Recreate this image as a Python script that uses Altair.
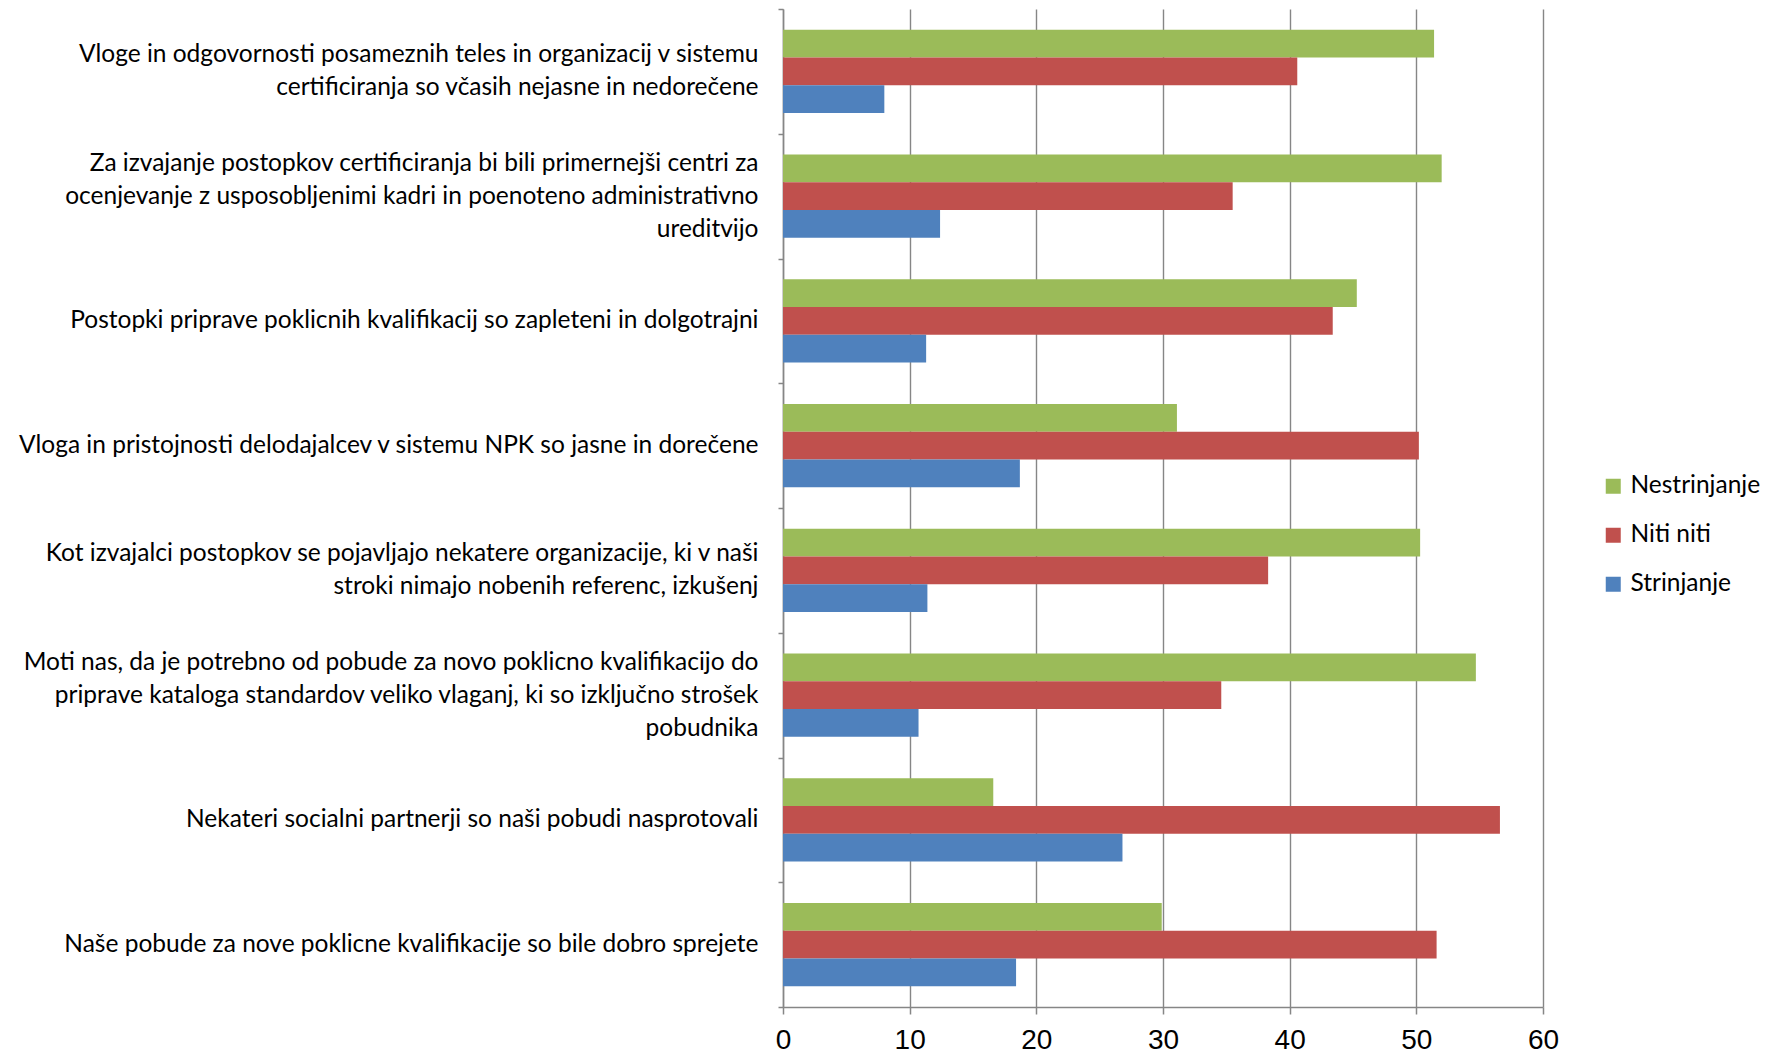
import altair as alt
import pandas as pd

categories = [
    "Vloge in odgovornosti posameznih teles in organizacij v sistemu|certificiranja so včasih nejasne in nedorečene",
    "Za izvajanje postopkov certificiranja bi bili primernejši centri za|ocenjevanje z usposobljenimi kadri in poenoteno administrativno|ureditvijo",
    "Postopki priprave poklicnih kvalifikacij so zapleteni in dolgotrajni",
    "Vloga in pristojnosti delodajalcev v sistemu NPK so jasne in dorečene",
    "Kot izvajalci postopkov se pojavljajo nekatere organizacije, ki v naši|stroki nimajo nobenih referenc, izkušenj",
    "Moti nas, da je potrebno od pobude za novo poklicno kvalifikacijo do|priprave kataloga standardov veliko vlaganj, ki so izključno strošek|pobudnika",
    "Nekateri socialni partnerji so naši pobudi nasprotovali",
    "Naše pobude za nove poklicne kvalifikacije so bile dobro sprejete",
]
series = ["Nestrinjanje", "Niti niti", "Strinjanje"]
nestrinjanje = [51.4, 52.0, 45.3, 31.1, 50.3, 54.7, 16.6, 29.9]
niti_niti = [40.6, 35.5, 43.4, 50.2, 38.3, 34.6, 56.6, 51.6]
strinjanje = [8.0, 12.4, 11.3, 18.7, 11.4, 10.7, 26.8, 18.4]
colors = ["#9BBB59", "#C0504D", "#4F81BD"]
x_ticks = [0, 10, 20, 30, 40, 50, 60]

rows = []
for s, vals in zip(series, [nestrinjanje, niti_niti, strinjanje]):
    for c, v in zip(categories, vals):
        rows.append({"kategorija": c, "serija": s, "vrednost": v})
df = pd.DataFrame(rows)

grid_col = "#868686"
line_h = 33

label_offset = {
    "condition": [
        {"test": "length(split(datum.label, '|')) == 3", "value": -line_h},
        {"test": "length(split(datum.label, '|')) == 2", "value": -line_h / 2},
    ],
    "value": 0,
}

chart = alt.Chart(df).mark_bar().encode(
    x=alt.X(
        "vrednost:Q",
        scale=alt.Scale(domain=[0, 60], nice=False),
        axis=alt.Axis(
            title=None,
            values=x_ticks,
            grid=True,
            gridColor=grid_col,
            gridWidth=1.4,
            domainColor=grid_col,
            domainWidth=1.5,
            tickColor=grid_col,
            tickWidth=1.5,
            tickSize=7,
            labelFont="Liberation Sans Narrow, Liberation Sans, Arial",
            labelFontSize=28,
            labelColor="#000000",
            labelPadding=12,
            labelFlush=False,
        ),
    ),
    y=alt.Y(
        "kategorija:N",
        sort=categories,
        scale=alt.Scale(paddingInner=0, paddingOuter=0),
        axis=alt.Axis(
            title=None,
            labelExpr="split(datum.label, '|')",
            labelFont="Lato",
            labelFontSize=24.5,
            labelLineHeight=line_h,
            labelColor="#000000",
            labelLimit=0,
            labelPadding=20,
            labelOffset=label_offset,
            tickBand="extent",
            tickColor=grid_col,
            tickWidth=1.5,
            tickSize=5,
            domainColor=grid_col,
            domainWidth=1.5,
            grid=False,
        ),
    ),
    yOffset=alt.YOffset(
        "serija:N",
        sort=series,
        scale=alt.Scale(paddingInner=0, paddingOuter=0.75),
    ),
    color=alt.Color(
        "serija:N",
        sort=series,
        scale=alt.Scale(domain=series, range=colors),
        legend=alt.Legend(
            title=None,
            orient="none",
            legendX=818,
            legendY=465,
            symbolType="square",
            symbolSize=225,
            symbolStrokeWidth=0,
            labelFont="Lato",
            labelFontSize=24.5,
            labelColor="#000000",
            rowPadding=24,
            labelOffset=5,
        ),
    ),
).properties(
    width=760,
    height=998,
    background="white",
    padding={"left": 783, "top": 9, "right": 228, "bottom": 47},
    autosize=alt.AutoSizeParams(type="none"),
).configure_view(stroke="transparent", strokeWidth=0)

chart.save("out.html", embed_options={"renderer": "svg", "actions": False})
